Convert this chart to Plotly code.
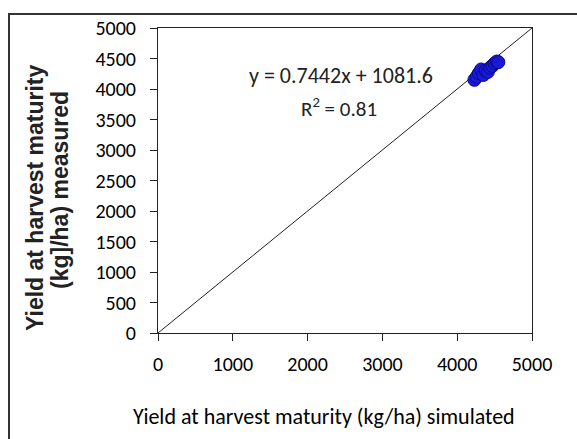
import plotly.graph_objects as go

# Data
simulated = [4230, 4260, 4290, 4320, 4350, 4380, 4410, 4440, 4470, 4500, 4530, 4550]
measured = [4150, 4200, 4260, 4320, 4230, 4300, 4280, 4350, 4380, 4420, 4450, 4440]
line_1to1 = [0, 5000]
x_ticks = [0, 1000, 2000, 3000, 4000, 5000]
y_ticks = [0, 500, 1000, 1500, 2000, 2500, 3000, 3500, 4000, 4500, 5000]
eq_text = "y = 0.7442x + 1081.6"
r2_text = "R<sup>2</sup> = 0.81"
x_title = "Yield at harvest maturity (kg/ha) simulated"
y_title_1 = "Yield at harvest maturity"
y_title_2 = "(kg]/ha) measured"

W, H = 577, 439
L, R, T, B = 158, 45, 28, 106
pw, ph = W - L - R, H - T - B

def px2paper_x(px):
    return (px - L) / pw

def px2paper_y(py):
    return (H - B - py) / ph

font_main = "Carlito, Calibri, Lato, sans-serif"
font_bold = "Liberation Sans, Arial, sans-serif"

fig = go.Figure()
fig.add_trace(go.Scatter(x=line_1to1, y=line_1to1, mode="lines",
                         line=dict(color="#222222", width=1), showlegend=False,
                         hoverinfo="skip"))
fig.add_trace(go.Scatter(x=simulated, y=measured, mode="markers",
                         marker=dict(size=13, color="#1a1ad6",
                                     line=dict(color="#0a0a90", width=1)),
                         showlegend=False))

def ann(px, py, text, font, angle=0):
    fig.add_annotation(x=px2paper_x(px), y=px2paper_y(py), xref="paper", yref="paper",
                       xanchor="center", yanchor="middle", text=text,
                       showarrow=False, textangle=angle, font=font)

ann(341, 75, eq_text, dict(family=font_main, size=22, color="#222222"))
ann(339, 107, r2_text, dict(family=font_main, size=21, color="#222222"))
ann(324, 416, x_title, dict(family=font_main, size=22, color="black"))
ann(35, 198, y_title_1, dict(family=font_bold, size=23, color="#222222", weight="bold"), -90)
ann(60, 190, y_title_2, dict(family=font_bold, size=23, color="#222222", weight="bold"), -90)

# outer border
fig.add_shape(type="rect", xref="paper", yref="paper",
              x0=px2paper_x(9), x1=px2paper_x(590),
              y0=px2paper_y(450), y1=px2paper_y(14),
              line=dict(color="#333333", width=2), layer="below")

fig.update_layout(
    width=W, height=H,
    margin=dict(l=L, r=R, t=T, b=B),
    plot_bgcolor="white", paper_bgcolor="white",
    font=dict(family=font_main, color="black"),
    xaxis=dict(range=[0, 5000], tickvals=x_ticks, showgrid=False, zeroline=False,
               showline=True, linecolor="#222222", linewidth=1, mirror=True,
               ticks="outside", ticklen=7, tickcolor="#222222",
               ticklabelstandoff=6,
               tickfont=dict(family=font_main, size=20, color="black")),
    yaxis=dict(range=[0, 5000], tickvals=y_ticks, showgrid=False, zeroline=False,
               showline=True, linecolor="#222222", linewidth=1, mirror=True,
               ticks="outside", ticklen=7, tickcolor="#222222",
               ticklabelstandoff=10,
               tickfont=dict(family=font_main, size=20, color="black")),
)

fig.write_html("out.html")
